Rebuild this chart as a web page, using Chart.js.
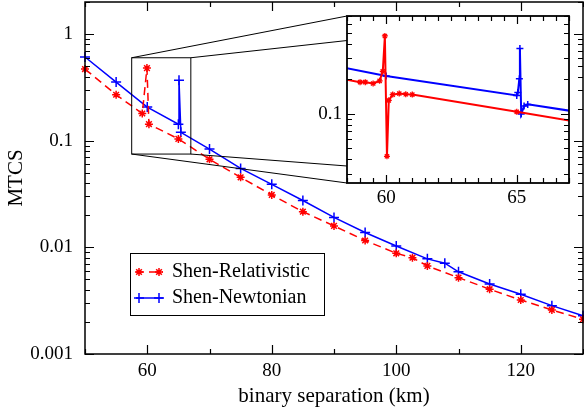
<!DOCTYPE html>
<html>
<head>
<meta charset="utf-8">
<script src="https://cdn.jsdelivr.net/npm/chart.js@4"></script>
<style>
  body { margin: 0; background: #fff; }
  #wrap { position: relative; width: 584px; height: 417px; }
  #mainChart { position: absolute; left: 0; top: 0; width: 584px; height: 417px; }
  #insetChart { position: absolute; left: 300px; top: 0; width: 284px; height: 215px; }
</style>
</head>
<body>
<div id="wrap">
  <canvas id="mainChart" width="584" height="417"></canvas>
  <canvas id="insetChart" width="284" height="215"></canvas>
</div>
<script>
// main plot values
const relX = [50, 55, 59.2, 59.95, 60.27, 65, 70, 75, 80, 85, 90, 95, 100, 102.6, 105, 110, 115, 120, 125, 130];
const relY = [0.47, 0.27, 0.18, 0.48, 0.143, 0.104, 0.067, 0.0454, 0.031, 0.0216, 0.0159, 0.0116, 0.0088, 0.0080, 0.0067, 0.0052, 0.00405, 0.00321, 0.00259, 0.00212];
const newX = [50, 55, 60, 65, 65.1, 65.4, 70, 75, 80, 85, 90, 95, 100, 105, 107.8, 110, 115, 120, 125, 130];
const newY = [0.61, 0.355, 0.207, 0.143, 0.37, 0.12, 0.0836, 0.055, 0.039, 0.0275, 0.0191, 0.0138, 0.0103, 0.0078, 0.0071, 0.0059, 0.00454, 0.00363, 0.00284, 0.00228];

// inset (zoom of 58.5 - 67 km)
const insetRelX = [55, 59.0, 59.2, 59.5, 59.75, 59.87, 59.95, 60.03, 60.1, 60.25, 60.5, 60.75, 61.0, 65.0, 70];
const insetRelY = [0.27, 0.187, 0.187, 0.182, 0.192, 0.232, 0.47, 0.0426, 0.13, 0.146, 0.149, 0.147, 0.146, 0.1035, 0.067];
const insetNewX = [55, 60, 65.0, 65.04, 65.1, 65.12, 65.17, 65.28, 65.42, 70];
const insetNewY = [0.355, 0.211, 0.1435, 0.152, 0.2, 0.366, 0.099, 0.116, 0.12, 0.0836];

// ticks
const mainXTicks = [50, 60, 70, 80, 90, 100, 110, 120, 130];
const mainXLabels = [60, 80, 100, 120];
const mainYLabels = [0.001, 0.01, 0.1, 1];
const insetXTicks = [58.5, 59, 59.5, 60, 60.5, 61, 61.5, 62, 62.5, 63, 63.5, 64, 64.5, 65, 65.5, 66, 66.5, 67];
const insetXLabels = [60, 65];
const insetYLabels = [0.1];

// zoom box drawn on the main plot
const zoomBox = { x0: 57.5, x1: 67, y0: 0.075, y1: 0.6 };

const RED = 'rgb(255,0,0)';
const BLUE = 'rgb(0,0,255)';
const SERIF = '"Liberation Serif", "DejaVu Serif", serif';
const TICK_FONT = { family: SERIF, size: 19 };
const TITLE_FONT = { family: SERIF, size: 21 };
const INSET_LEFT = 300, INSET_TOP = 0;

Chart.defaults.color = '#000';
Chart.defaults.font.family = SERIF;

function logTicks(min, max) {
  const out = [];
  for (let e = -4; e <= 1; e++) {
    for (let m = 1; m <= 9; m++) {
      const v = +(m * Math.pow(10, e)).toPrecision(3);
      if (v >= min - 1e-12 && v <= max + 1e-12) out.push(v);
    }
  }
  return out;
}

function isDecade(v) {
  const l = Math.log10(v);
  return Math.abs(l - Math.round(l)) < 1e-9;
}

function pts(xs, ys) {
  return xs.map((x, i) => ({ x: x, y: ys[i] }));
}

// fix the axis box size and drop the label overhang padding
function fixSize(prop, size) {
  return s => {
    s[prop] = size;
    s.paddingTop = 0; s.paddingBottom = 0; s.paddingLeft = 0; s.paddingRight = 0;
  };
}

// inward ticks on all four sides + frame
function frame(opts) {
  return {
    id: 'frame',
    beforeDraw(chart) {
      if (!opts.fill) return;
      const a = chart.chartArea, ctx = chart.ctx;
      ctx.save();
      ctx.fillStyle = '#fff';
      ctx.fillRect(a.left, a.top, a.right - a.left, a.bottom - a.top);
      ctx.restore();
    },
    afterDraw(chart) {
      const { ctx, chartArea: a, scales } = chart;
      ctx.save();
      ctx.strokeStyle = '#000';
      ctx.lineWidth = 1.2;
      ctx.beginPath();
      scales.x.ticks.forEach(t => {
        const p = Math.round(scales.x.getPixelForValue(t.value)) + 0.5;
        const len = opts.xMajor.includes(t.value) ? opts.major : opts.minor;
        ctx.moveTo(p, a.bottom); ctx.lineTo(p, a.bottom - len);
        ctx.moveTo(p, a.top); ctx.lineTo(p, a.top + len);
      });
      scales.y.ticks.forEach(t => {
        const p = Math.round(scales.y.getPixelForValue(t.value)) + 0.5;
        const len = isDecade(t.value) ? opts.major : opts.minor;
        ctx.moveTo(a.left, p); ctx.lineTo(a.left + len, p);
        ctx.moveTo(a.right, p); ctx.lineTo(a.right - len, p);
      });
      ctx.stroke();
      ctx.lineWidth = opts.border;
      ctx.strokeRect(a.left, a.top, a.right - a.left, a.bottom - a.top);
      ctx.restore();
    }
  };
}

function drawStar(ctx, x, y, r) {
  ctx.beginPath();
  for (let k = 0; k < 4; k++) {
    const ang = k * Math.PI / 4;
    ctx.moveTo(x - Math.cos(ang) * r, y - Math.sin(ang) * r);
    ctx.lineTo(x + Math.cos(ang) * r, y + Math.sin(ang) * r);
  }
  ctx.stroke();
}

function drawCross(ctx, x, y, r) {
  ctx.beginPath();
  ctx.moveTo(x - r, y); ctx.lineTo(x + r, y);
  ctx.moveTo(x, y - r); ctx.lineTo(x, y + r);
  ctx.stroke();
}

const noGrid = { display: false, drawTicks: false };

// ---------- inset chart ----------
const insetChart = new Chart(document.getElementById('insetChart'), {
  type: 'line',
  data: {
    datasets: [
      {
        label: 'Shen-Relativistic',
        data: pts(insetRelX, insetRelY),
        borderColor: RED, borderWidth: 2,
        pointStyle: 'star', pointRadius: 3, pointBorderColor: RED, pointBorderWidth: 1.3,
        tension: 0
      },
      {
        label: 'Shen-Newtonian',
        data: pts(insetNewX, insetNewY),
        borderColor: BLUE, borderWidth: 2,
        pointStyle: 'cross', pointRadius: 3.5, pointBorderColor: BLUE, pointBorderWidth: 1.5,
        tension: 0
      }
    ]
  },
  options: {
    responsive: false,
    devicePixelRatio: 1,
    animation: false,
    layout: { autoPadding: false, padding: { top: 16, right: 15, left: 0, bottom: 0 } },
    plugins: { legend: { display: false }, tooltip: { enabled: false } },
    scales: {
      x: {
        type: 'linear', min: 58.5, max: 67,
        grid: noGrid, border: { display: false },
        afterBuildTicks: s => { s.ticks = insetXTicks.map(v => ({ value: v })); },
        afterFit: fixSize('height', 32),
        ticks: {
          autoSkip: false, maxRotation: 0, padding: 4, font: TICK_FONT,
          callback: v => insetXLabels.includes(v) ? String(v) : ''
        }
      },
      y: {
        type: 'logarithmic', min: 0.025, max: 0.7,
        grid: noGrid, border: { display: false },
        afterBuildTicks: s => { s.ticks = logTicks(0.025, 0.7).map(v => ({ value: v })); },
        afterFit: fixSize('width', 47),
        ticks: {
          autoSkip: false, padding: 5, font: TICK_FONT,
          callback: v => insetYLabels.includes(v) ? String(v) : ''
        }
      }
    }
  },
  plugins: [frame({ fill: true, xMajor: insetXLabels, major: 8, minor: 5, border: 1.8 })]
});

// ---------- main chart ----------
const zoomLines = {
  id: 'zoomLines',
  afterDatasetsDraw(chart) {
    const { ctx, scales } = chart;
    const ia = insetChart.chartArea;
    const L = scales.x.getPixelForValue(zoomBox.x0), R = scales.x.getPixelForValue(zoomBox.x1);
    const T = scales.y.getPixelForValue(zoomBox.y1), B = scales.y.getPixelForValue(zoomBox.y0);
    const iL = INSET_LEFT + ia.left, iR = INSET_LEFT + ia.right;
    const iT = INSET_TOP + ia.top, iB = INSET_TOP + ia.bottom;
    ctx.save();
    ctx.strokeStyle = '#000';
    ctx.lineWidth = 1;
    ctx.strokeRect(L, T, R - L, B - T);
    ctx.beginPath();
    ctx.moveTo(L, T); ctx.lineTo(iL, iT);
    ctx.moveTo(R, T); ctx.lineTo(iR, iT);
    ctx.moveTo(L, B); ctx.lineTo(iL, iB);
    ctx.moveTo(R, B); ctx.lineTo(iR, iB);
    ctx.stroke();
    ctx.restore();
  }
};

const legendBox = {
  id: 'legendBox',
  afterDraw(chart) {
    const ctx = chart.ctx;
    ctx.save();
    ctx.fillStyle = '#fff';
    ctx.fillRect(130, 253, 194, 62);
    ctx.strokeStyle = '#000';
    ctx.lineWidth = 1;
    ctx.strokeRect(130.5, 253.5, 194, 62);

    // red dashed with stars
    ctx.strokeStyle = RED;
    ctx.lineWidth = 1.5;
    ctx.setLineDash([8, 5]);
    ctx.beginPath(); ctx.moveTo(136, 272); ctx.lineTo(163, 272); ctx.stroke();
    ctx.setLineDash([]);
    drawStar(ctx, 139, 272, 4);
    drawStar(ctx, 159, 272, 4);

    // blue solid with crosses
    ctx.strokeStyle = BLUE;
    ctx.beginPath(); ctx.moveTo(136, 298); ctx.lineTo(163, 298); ctx.stroke();
    drawCross(ctx, 139, 298, 5);
    drawCross(ctx, 159, 298, 5);

    ctx.fillStyle = '#000';
    ctx.font = '20px ' + SERIF;
    ctx.textBaseline = 'middle';
    ctx.textAlign = 'left';
    ctx.fillText('Shen-Relativistic', 172, 272);
    ctx.fillText('Shen-Newtonian', 172, 298);
    ctx.restore();
  }
};

new Chart(document.getElementById('mainChart'), {
  type: 'line',
  data: {
    datasets: [
      {
        label: 'Shen-Relativistic',
        data: pts(relX, relY),
        borderColor: RED, borderWidth: 1.5, borderDash: [8, 5],
        pointStyle: 'star', pointRadius: 4, pointBorderColor: RED, pointBorderWidth: 1.5,
        tension: 0, clip: false
      },
      {
        label: 'Shen-Newtonian',
        data: pts(newX, newY),
        borderColor: BLUE, borderWidth: 1.5,
        pointStyle: 'cross', pointRadius: 5, pointBorderColor: BLUE, pointBorderWidth: 1.5,
        tension: 0, clip: false
      }
    ]
  },
  options: {
    responsive: false,
    devicePixelRatio: 1,
    animation: false,
    layout: { autoPadding: false, padding: { top: 2, right: 1, left: 0, bottom: 0 } },
    plugins: { legend: { display: false }, tooltip: { enabled: false } },
    scales: {
      x: {
        type: 'linear', min: 50, max: 130,
        grid: noGrid, border: { display: false },
        afterBuildTicks: s => { s.ticks = mainXTicks.map(v => ({ value: v })); },
        afterFit: fixSize('height', 63),
        ticks: {
          autoSkip: false, maxRotation: 0, padding: 6, font: TICK_FONT,
          callback: v => mainXLabels.includes(v) ? String(v) : ''
        },
        title: {
          display: true, text: 'binary separation (km)', font: TITLE_FONT,
          padding: { top: 0, bottom: 8 }
        }
      },
      y: {
        type: 'logarithmic', min: 0.001, max: 2,
        grid: noGrid, border: { display: false },
        afterBuildTicks: s => { s.ticks = logTicks(0.001, 2).map(v => ({ value: v })); },
        afterFit: fixSize('width', 85),
        ticks: {
          autoSkip: false, padding: 12, font: TICK_FONT,
          callback: v => mainYLabels.includes(v) ? String(v) : ''
        },
        title: {
          display: true, text: 'MTCS', font: TITLE_FONT,
          padding: { top: 4, bottom: 0 }
        }
      }
    }
  },
  plugins: [frame({ fill: false, xMajor: mainXLabels, major: 9, minor: 5, border: 1.5 }), zoomLines, legendBox]
});
</script>
</body>
</html>
